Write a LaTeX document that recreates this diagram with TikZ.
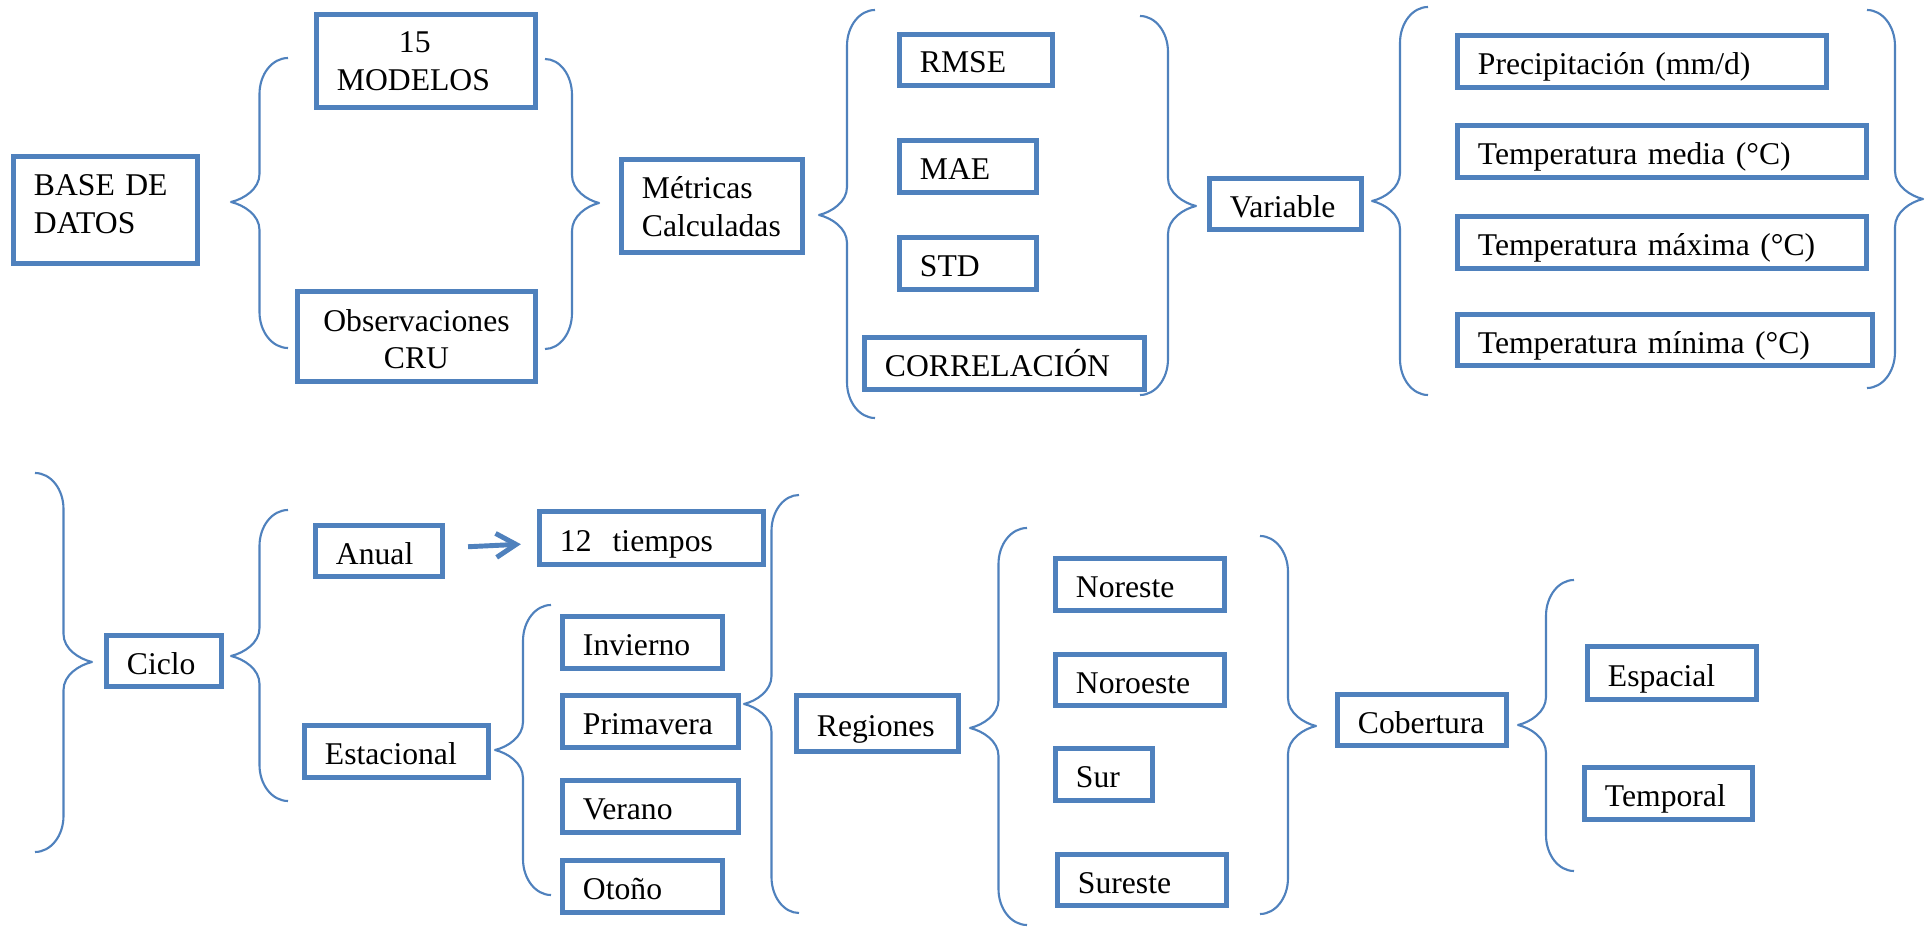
\documentclass[tikz,border=0pt]{standalone}
\usepackage{fontspec}
\setmainfont{Liberation Serif}
\usepackage{tikz}
\usetikzlibrary{arrows.meta}

\definecolor{azulcaja}{HTML}{4F81BD}

\tikzset{
  caja/.style={draw=azulcaja, line width=1.45pt, align=left, inner xsep=0.205cm, inner ysep=1pt,
    font=\fontsize{9}{10.6}\selectfont, text height=7.4pt, text depth=0pt},
  llaveazul/.style={draw=azulcaja, line width=0.6pt, line join=round},
  flecha/.style={draw=azulcaja, line width=1.4pt, -{Straight Barb[length=2mm,width=2.4mm]}}
}

% caja: [opciones]{nombre}{izq}{arriba}{der}{abajo}{texto}
\newcommand{\caja}[7][]{%
  \pgfmathsetmacro{\cajaw}{(#5-#3-5)/100}%
  \pgfmathsetmacro{\cajah}{(#6-#4-5)/100}%
  \node[caja, minimum width=\cajaw cm, minimum height=\cajah cm, text width=\cajaw cm-0.41cm, #1]
    (#2) at ({(#3+#5)/2},{(#4+#6)/2}) {#7};
}

% llave: {extremo}{punta}{arriba}{medio}{abajo}
\newcommand{\llave}[5]{%
  \pgfmathsetmacro{\llxv}{(#1+#2)/2}%
  \pgfmathsetmacro{\llxa}{\llxv+0.45*(#1-\llxv)}%
  \pgfmathsetmacro{\llxb}{#2+0.45*(\llxv-#2)}%
  \draw[llaveazul] (#1,#3) .. controls (\llxa,#3) and (\llxv,#3+16) .. (\llxv,#3+36)
    -- (\llxv,#4-28) .. controls (\llxv,#4-13) and (\llxb,#4-3) .. (#2,#4)
    .. controls (\llxb,#4+3) and (\llxv,#4+13) .. (\llxv,#4+28)
    -- (\llxv,#5-36) .. controls (\llxv,#5-16) and (\llxa,#5) .. (#1,#5);
}

\begin{document}
\begin{tikzpicture}[x=0.01cm, y=-0.01cm]
\fill[white] (0,0) rectangle (1932,928);
\useasboundingbox (0,0) rectangle (1932,928);

% fila de arriba
\caja[text depth=15.4pt]{base}{11}{154}{200}{266}{BASE DE\\DATOS}
\caja[text depth=12pt]{modelos}{314}{12}{538}{110}{\hspace*{0.62cm}15\\MODELOS}
\caja[align=center, text depth=10.5pt]{obs}{295}{289}{538}{384}{Observaciones\\CRU}
\caja[text depth=11.4pt]{metricas}{619}{157}{805}{255}{Métricas\\Calculadas}
\caja{rmse}{897}{32}{1055}{88}{RMSE}
\caja{mae}{897}{138}{1039}{195}{MAE}
\caja{std}{897}{235}{1039}{292}{STD}
\caja{correl}{862}{335}{1147}{392}{CORRELACIÓN}
\caja{variable}{1207}{176}{1364}{232}{Variable}
\caja{precip}{1455}{33}{1829}{90}{Precipitación (mm/d)}
\caja{tmedia}{1455}{123}{1869}{180}{Temperatura media (°C)}
\caja{tmax}{1455}{214}{1869}{271}{Temperatura máxima (°C)}
\caja{tmin}{1455}{312}{1875}{368}{Temperatura mínima (°C)}

\llave{288}{231}{58}{202}{348}
\llave{545}{599}{59}{203}{349}
\llave{875}{819}{10}{215}{418}
\llave{1140}{1196}{16}{206}{395}
\llave{1428}{1372}{7}{201}{395}
\llave{1867}{1923}{10}{199}{388}

% fila de abajo
\caja{ciclo}{104}{633}{224}{689}{Ciclo}
\caja{anual}{313}{523}{445}{579}{Anual}
\caja{tiempos}{537}{509}{766}{567}{12~~tiempos}
\caja{estacional}{302}{723}{491}{780}{Estacional}
\caja{invierno}{560}{614}{725}{671}{Invierno}
\caja{primavera}{560}{693}{741}{750}{Primavera}
\caja{verano}{560}{778}{741}{835}{Verano}
\caja{otono}{560}{858}{725}{915}{Otoño}
\caja{regiones}{794}{693}{961}{754}{Regiones}
\caja{noreste}{1053}{556}{1227}{613}{Noreste}
\caja{noroeste}{1053}{652}{1227}{708}{Noroeste}
\caja{sur}{1053}{746}{1155}{803}{Sur}
\caja{sureste}{1055}{852}{1229}{908}{Sureste}
\caja{cobertura}{1335}{692}{1509}{748}{Cobertura}
\caja{espacial}{1585}{644}{1759}{702}{Espacial}
\caja{temporal}{1582}{765}{1755}{822}{Temporal}

\draw[flecha, shorten <=0.23cm, shorten >=0.16cm] (anual) -- (tiempos);

\llave{35}{92}{473}{662}{852}
\llave{288}{231}{510}{656}{801}
\llave{551}{495}{605}{750}{895}
\llave{799}{744}{495}{704}{913}
\llave{1027}{970}{528}{728}{925}
\llave{1260}{1316}{536}{726}{914}
\llave{1574}{1518}{580}{725}{871}
\end{tikzpicture}
\end{document}
